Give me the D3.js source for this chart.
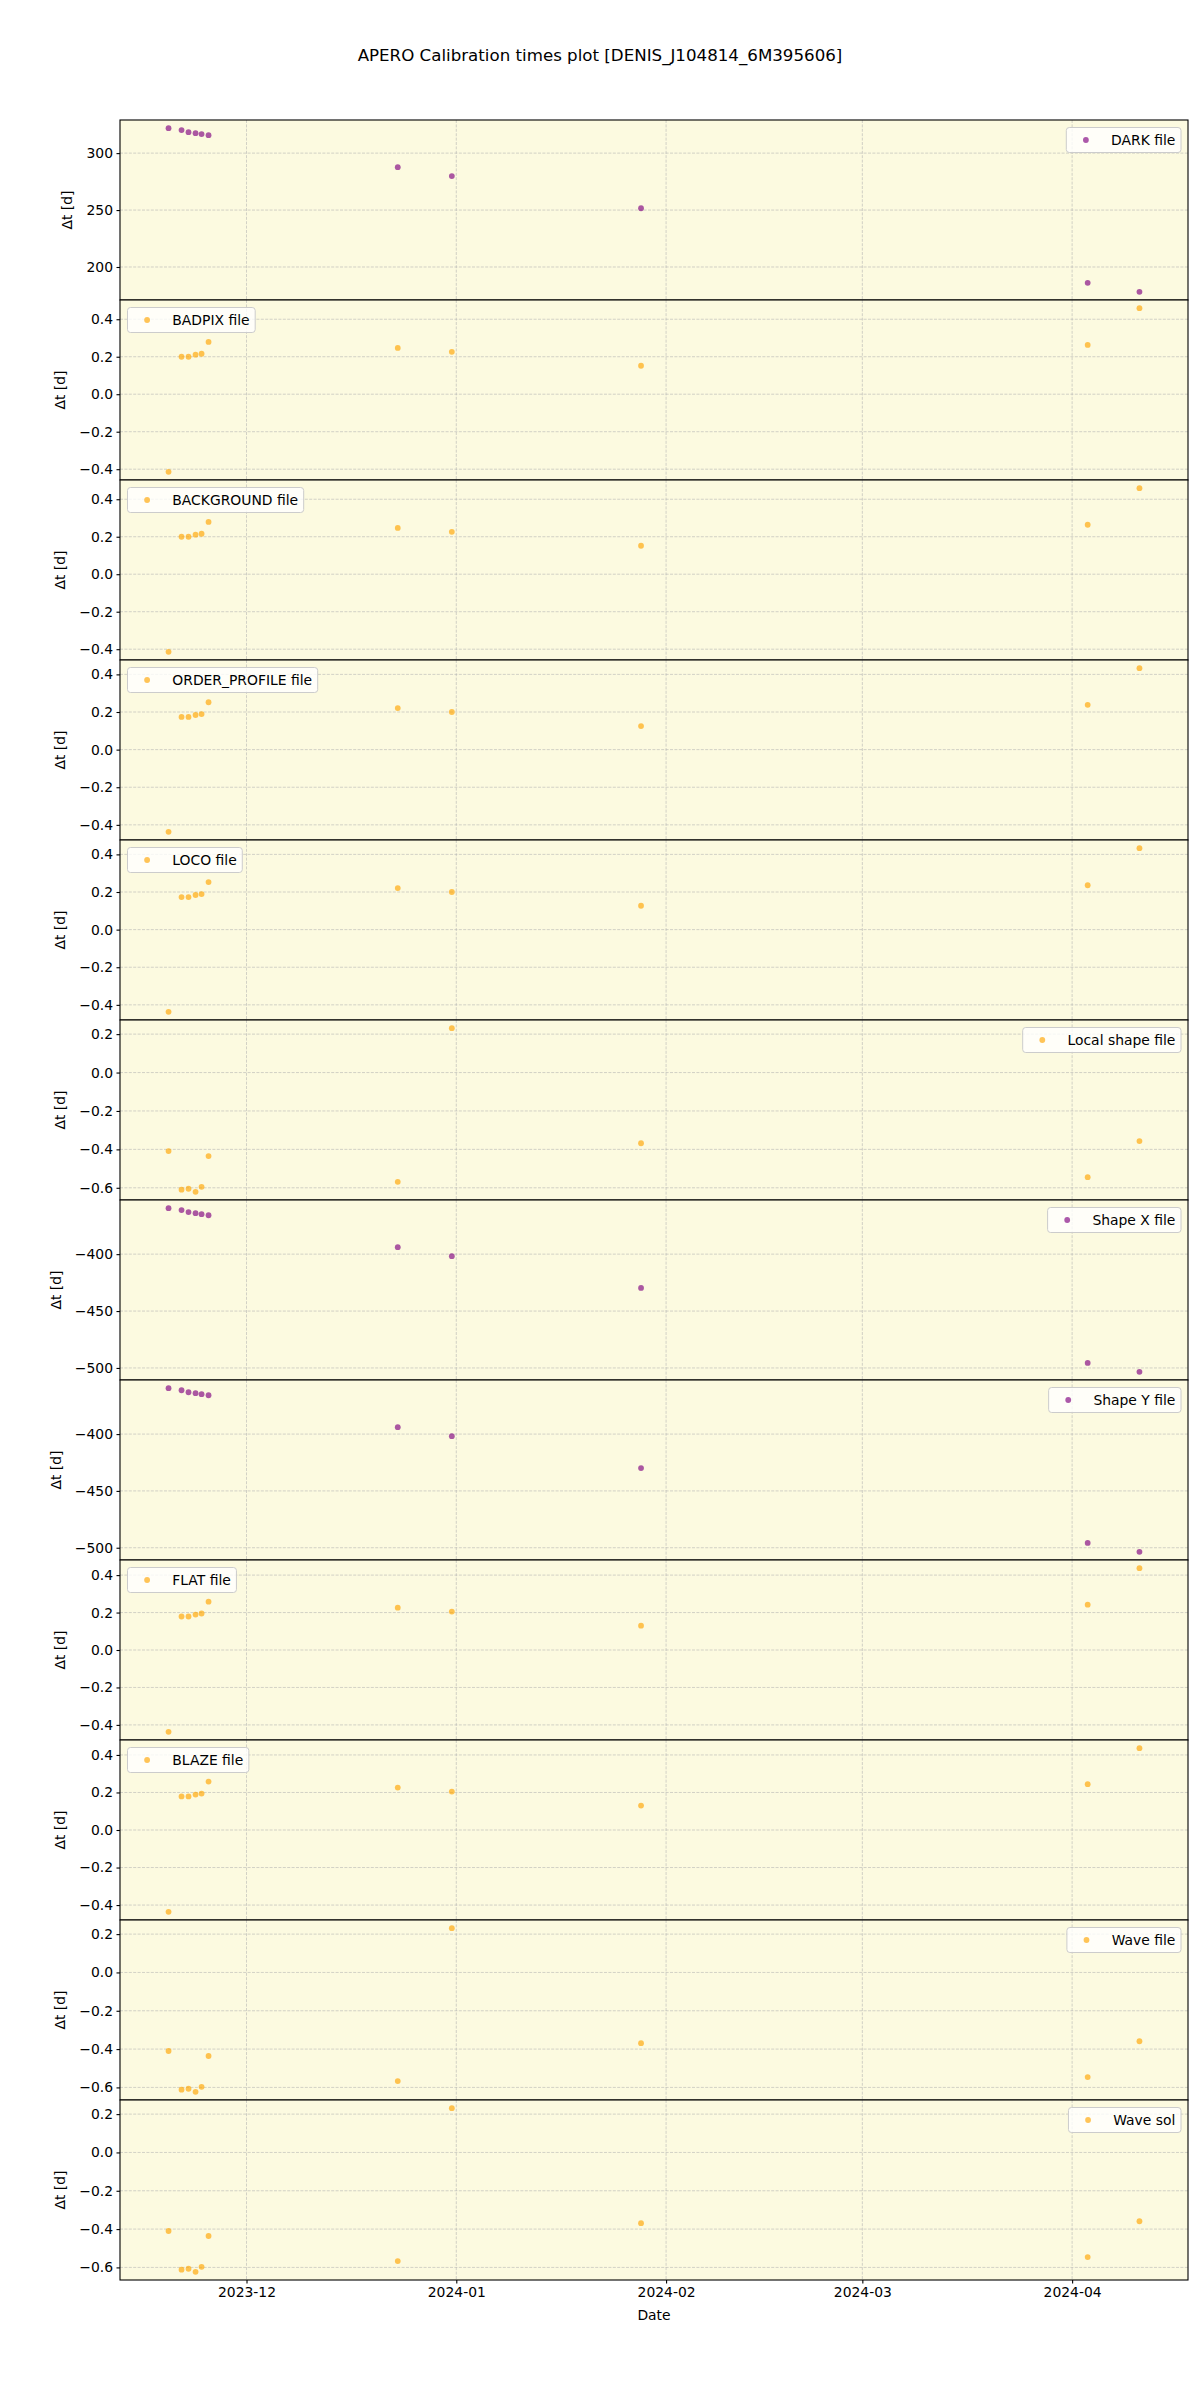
<!DOCTYPE html>
<html><head><meta charset="utf-8">
<script src="https://cdn.jsdelivr.net/npm/d3@7"></script>
<style>
body{margin:0;background:#fff}
svg{display:block}
text{font-family:"DejaVu Sans",sans-serif}
</style>
</head><body>
<svg id="chart" width="1200" height="2400"></svg>
<script>
// ---------------- data ----------------
const chartTitle = "APERO Calibration times plot [DENIS_J104814_6M395606]";
const xAxisLabel = "Date";
const yAxisLabel = "Δt [d]";

const obsDates = [
  "2023-11-19T11:30","2023-11-21T09:36","2023-11-22T10:19","2023-11-23T11:17",
  "2023-11-24T08:38","2023-11-25T09:22","2023-12-23T08:24","2023-12-31T08:10",
  "2024-01-28T07:12","2024-04-03T07:12","2024-04-10T22:48"
];

const panelLabels = ["DARK file","BADPIX file","BACKGROUND file","ORDER_PROFILE file","LOCO file",
  "Local shape file","Shape X file","Shape Y file","FLAT file","BLAZE file","Wave file","Wave sol"];

const darkValues       = [321.9, 320.2, 318.4, 317.5, 316.7, 315.8, 287.7, 279.8, 251.6, 186.1, 178.2];
const badpixValues     = [-0.414, 0.200, 0.200, 0.211, 0.216, 0.279, 0.247, 0.226, 0.152, 0.263, 0.459];
const backgroundValues = [-0.414, 0.200, 0.200, 0.211, 0.216, 0.279, 0.247, 0.226, 0.152, 0.264, 0.459];
const orderProfileValues = [-0.437, 0.174, 0.174, 0.184, 0.189, 0.252, 0.221, 0.200, 0.125, 0.238, 0.433];
const locoValues       = [-0.437, 0.173, 0.173, 0.184, 0.189, 0.253, 0.221, 0.200, 0.127, 0.236, 0.433];
const localShapeValues = [-0.409, -0.610, -0.605, -0.621, -0.595, -0.435, -0.569, 0.231, -0.368, -0.545, -0.357];
const shapeXValues     = [-359.6, -361.3, -363.0, -364.0, -364.9, -365.8, -393.9, -401.8, -429.7, -495.6, -503.4];
const shapeYValues     = [-359.6, -361.4, -363.2, -364.0, -364.9, -365.8, -393.9, -401.8, -429.9, -495.8, -503.6];
const flatValues       = [-0.437, 0.179, 0.179, 0.189, 0.195, 0.258, 0.226, 0.205, 0.130, 0.242, 0.437];
const blazeValues      = [-0.436, 0.179, 0.179, 0.189, 0.194, 0.258, 0.226, 0.205, 0.130, 0.244, 0.436];
const waveValues       = [-0.410, -0.612, -0.607, -0.623, -0.597, -0.436, -0.567, 0.231, -0.369, -0.546, -0.359];
const waveSolValues    = [-0.410, -0.612, -0.607, -0.623, -0.597, -0.436, -0.567, 0.231, -0.369, -0.546, -0.359];

const panelValues = [darkValues, badpixValues, backgroundValues, orderProfileValues, locoValues,
  localShapeValues, shapeXValues, shapeYValues, flatValues, blazeValues, waveValues, waveSolValues];

const ticksDark  = [200, 250, 300];
const ticksPos   = [-0.4, -0.2, 0.0, 0.2, 0.4];
const ticksNeg   = [-0.6, -0.4, -0.2, 0.0, 0.2];
const ticksShape = [-500, -450, -400];
const panelTicks = [ticksDark, ticksPos, ticksPos, ticksPos, ticksPos, ticksNeg,
  ticksShape, ticksShape, ticksPos, ticksPos, ticksNeg, ticksNeg];

const xTickLabels = ["2023-12","2024-01","2024-02","2024-03","2024-04"];

// ---------------- styling config ----------------
const seriesKind = ["purple","orange","orange","orange","orange","orange","purple","purple","orange","orange","orange","orange"];
const legendSide = ["right","left","left","left","left","right","right","right","left","left","right","right"];
const colorMap = {purple:"#800080", orange:"#ffa500"};

// ---------------- layout ----------------
const W = 1200, H = 2400;
const plotL = 120, plotR = 1188, plotT = 120, plotB = 2280;
const nP = panelLabels.length;
const pH = (plotB - plotT) / nP;
const fs = 13.9;
const dotR = 2.9, dotOp = 0.65;

const svg = d3.select("#chart");
svg.append("rect").attr("width", W).attr("height", H).attr("fill", "#fff");

const parse = d3.utcParse("%Y-%m-%dT%H:%M");
const dates = obsDates.map(parse);
const xTickDates = xTickLabels.map(d3.utcParse("%Y-%m"));

const padExt = (ext, f) => { const s = ext[1] - ext[0]; return [ext[0] - s * f, ext[1] + s * f]; };
const xExt = d3.extent(dates).map(d => +d);
const xDom = padExt(xExt, 0.05).map(v => new Date(v));
const x = d3.scaleUtc().domain(xDom).range([plotL, plotR]);

svg.append("text").attr("x", 600).attr("y", 61).attr("text-anchor", "middle")
  .attr("font-size", 16.67).attr("fill", "#000").text(chartTitle);

panelLabels.forEach((label, i) => {
  const vals = panelValues[i];
  const y0 = plotT + i * pH;
  const y = d3.scaleLinear().domain(padExt(d3.extent(vals), 0.05)).range([y0 + pH, y0]);
  const g = svg.append("g");

  g.append("rect").attr("x", plotL).attr("y", y0).attr("width", plotR - plotL).attr("height", pH)
    .attr("fill", "#fcfae0");

  // grid
  const grid = g.append("g").attr("stroke", "#b0b0b0").attr("stroke-opacity", 0.7)
    .attr("stroke-width", 0.8).attr("stroke-dasharray", "3,1.4");
  grid.selectAll("line.h").data(panelTicks[i]).join("line").attr("class", "h")
    .attr("x1", plotL).attr("x2", plotR).attr("y1", d => y(d)).attr("y2", d => y(d));
  grid.selectAll("line.v").data(xTickDates).join("line").attr("class", "v")
    .attr("y1", y0).attr("y2", y0 + pH).attr("x1", d => x(d)).attr("x2", d => x(d));

  // points
  g.append("g").selectAll("circle").data(vals).join("circle")
    .attr("cx", (d, j) => x(dates[j])).attr("cy", d => y(d)).attr("r", dotR)
    .attr("fill", colorMap[seriesKind[i]]).attr("fill-opacity", dotOp);

  // frame
  g.append("rect").attr("x", plotL).attr("y", y0).attr("width", plotR - plotL).attr("height", pH)
    .attr("fill", "none").attr("stroke", "#000").attr("stroke-width", 1.1);

  // y axis
  const fmt = Math.abs(panelTicks[i][0]) >= 10 ? d3.format("d") : d3.format(".1f");
  const ax = g.append("g").attr("transform", `translate(${plotL},0)`)
    .call(d3.axisLeft(y).tickValues(panelTicks[i]).tickFormat(fmt).tickSize(3.5).tickPadding(3.5));
  ax.select(".domain").remove();
  ax.selectAll("line").attr("stroke", "#000").attr("stroke-width", 1.1);
  ax.selectAll("text").attr("font-size", fs).attr("fill", "#000").attr("font-family", "DejaVu Sans");
  let maxW = 0;
  ax.selectAll("text").each(function(){ maxW = Math.max(maxW, this.getComputedTextLength()); });
  const lx = plotL - 7 - maxW - 19;
  g.append("text").attr("transform", `translate(${lx},${y0 + pH / 2}) rotate(-90)`)
    .attr("text-anchor", "middle").attr("dy", "0.35em").attr("font-size", fs).attr("fill", "#000")
    .text(yAxisLabel);

  // legend
  const lg = g.append("g");
  const txt = lg.append("text").attr("font-size", fs).attr("fill", "#000").text(label);
  const tw = txt.node().getComputedTextLength();
  const bw = 5.6 + 28 + 11.2 + tw + 5.6, bh = 25;
  const bx = legendSide[i] === "right" ? plotR - 7 - bw : plotL + 7.5;
  const by = y0 + 7.5;
  lg.insert("rect", "text").attr("x", bx).attr("y", by).attr("width", bw).attr("height", bh)
    .attr("rx", 3).attr("fill", "#fff").attr("fill-opacity", 0.8)
    .attr("stroke", "#cccccc").attr("stroke-width", 1);
  lg.insert("circle", "text").attr("cx", bx + 5.6 + 14).attr("cy", by + bh / 2).attr("r", dotR)
    .attr("fill", colorMap[seriesKind[i]]).attr("fill-opacity", dotOp);
  txt.attr("x", bx + 5.6 + 28 + 11.2).attr("y", by + bh / 2).attr("dy", "0.35em");

  // x axis on last panel
  if (i === nP - 1) {
    const xa = g.append("g").attr("transform", `translate(0,${y0 + pH})`)
      .call(d3.axisBottom(x).tickValues(xTickDates).tickFormat((d, k) => xTickLabels[k]).tickSize(3.5).tickPadding(3.5));
    xa.select(".domain").remove();
    xa.selectAll("line").attr("stroke", "#000").attr("stroke-width", 1.1);
    xa.selectAll("text").attr("font-size", fs).attr("fill", "#000").attr("font-family", "DejaVu Sans");
    g.append("text").attr("x", (plotL + plotR) / 2).attr("y", y0 + pH + 40)
      .attr("text-anchor", "middle").attr("font-size", fs).attr("fill", "#000").text(xAxisLabel);
  }
});
</script>
</body></html>
